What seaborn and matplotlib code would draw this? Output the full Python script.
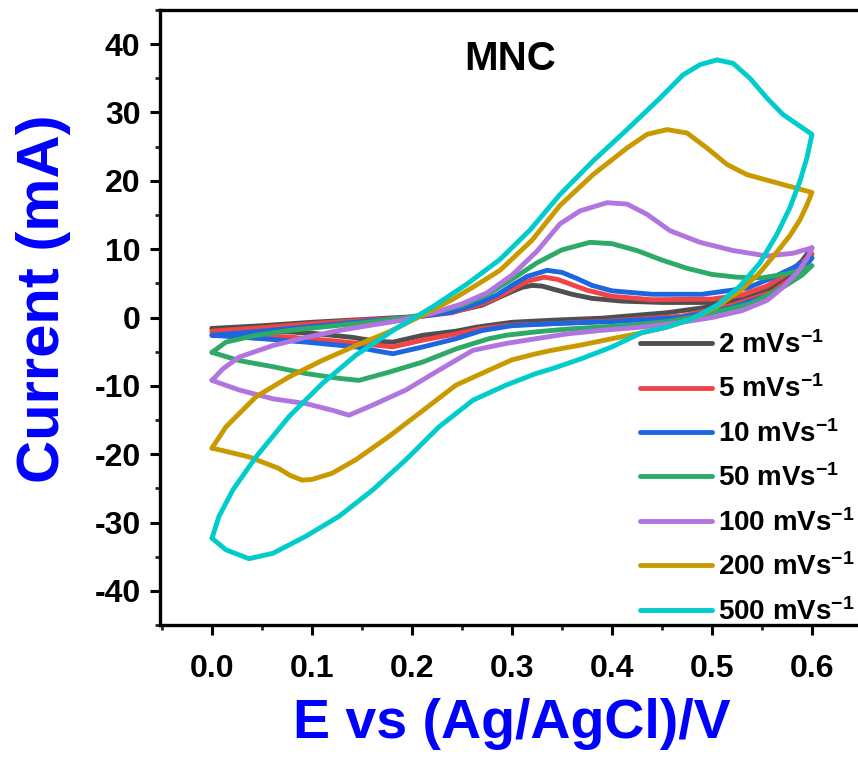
import numpy as np
import pandas as pd
import matplotlib
matplotlib.use("Agg")
import matplotlib.pyplot as plt
from matplotlib.lines import Line2D
from matplotlib.ticker import MultipleLocator
import seaborn as sns

# ---- cyclic voltammograms of MNC at several scan rates ----
# each loop: anodic sweep 0 -> 0.6 V followed by cathodic sweep 0.6 -> 0 V
rates = ["2 mVs$^{-1}$", "5 mVs$^{-1}$", "10 mVs$^{-1}$", "50 mVs$^{-1}$",
         "100 mVs$^{-1}$", "200 mVs$^{-1}$", "500 mVs$^{-1}$"]
colors = ["#4f4f4f", "#f24444", "#1c66e0", "#2eaa68", "#b274de", "#c99a00", "#00cccc"]

E_2 = [0, 0.05, 0.1, 0.15, 0.2, 0.24, 0.27, 0.285, 0.3, 0.31, 0.32, 0.33, 0.345, 0.36,
       0.38, 0.41, 0.45, 0.49, 0.52, 0.54, 0.56, 0.575, 0.59, 0.6,
       0.585, 0.56, 0.52, 0.49, 0.455, 0.39, 0.34, 0.3, 0.265, 0.244, 0.211, 0.181,
       0.165, 0.14, 0.1, 0.05, 0]
I_2 = [-1.6, -1.2, -0.7, -0.3, 0.1, 0.8, 1.8, 2.8, 3.8, 4.4, 4.7, 4.6, 4.0, 3.4,
       2.8, 2.4, 2.2, 2.2, 2.6, 3.3, 4.6, 6.2, 8.3, 10.2,
       6.8, 4.2, 2.4, 1.4, 0.7, -0.1, -0.4, -0.7, -1.4, -2.0, -2.6, -3.6,
       -3.5, -2.9, -2.3, -1.9, -1.6]

E_5 = [0, 0.05, 0.1, 0.15, 0.2, 0.24, 0.27, 0.285, 0.3, 0.315, 0.332, 0.345, 0.36, 0.375,
       0.4, 0.44, 0.5, 0.53, 0.555, 0.575, 0.59, 0.6,
       0.585, 0.56, 0.52, 0.47, 0.4, 0.34, 0.3, 0.27, 0.244, 0.211, 0.181, 0.16, 0.12,
       0.08, 0.04, 0]
I_5 = [-2.0, -1.5, -0.9, -0.4, 0.0, 0.7, 2.0, 2.9, 4.1, 5.3, 5.9, 5.6, 4.8, 4.0,
       3.1, 2.6, 2.7, 3.3, 4.6, 6.4, 8.0, 9.3,
       6.3, 3.7, 1.8, 0.2, -0.5, -0.9, -1.1, -1.6, -2.4, -3.3, -4.3, -4.0, -3.4,
       -2.9, -2.5, -2.2]

E_10 = [0, 0.05, 0.1, 0.15, 0.2, 0.24, 0.27, 0.285, 0.3, 0.315, 0.335, 0.35, 0.365, 0.38,
        0.4, 0.44, 0.49, 0.535, 0.56, 0.58, 0.6,
        0.585, 0.56, 0.52, 0.47, 0.4, 0.34, 0.3, 0.27, 0.244, 0.211, 0.19, 0.181, 0.165,
        0.144, 0.094, 0.05, 0]
I_10 = [-2.6, -2.0, -1.3, -0.6, 0.0, 0.8, 2.3, 3.3, 4.7, 6.0, 6.9, 6.6, 5.7, 4.7,
        3.9, 3.4, 3.4, 4.3, 5.8, 7.2, 8.7,
        5.9, 3.4, 1.5, 0.0, -0.6, -0.9, -1.2, -1.9, -3.1, -4.3, -5.0, -5.3, -4.9,
        -4.3, -3.6, -3.1, -2.6]

E_50 = [0, 0.014, 0.044, 0.077, 0.11, 0.15, 0.19, 0.22, 0.25, 0.275, 0.3, 0.325, 0.35,
        0.378, 0.4, 0.425, 0.45, 0.475, 0.5, 0.525, 0.55, 0.575, 0.59, 0.6,
        0.59, 0.575, 0.555, 0.538, 0.51, 0.48, 0.455, 0.42, 0.388, 0.355, 0.324, 0.294,
        0.277, 0.244, 0.211, 0.177, 0.147, 0.127, 0.094, 0.061, 0.027, 0]
I_50 = [-5.1, -3.6, -2.6, -1.9, -1.4, -0.8, -0.1, 0.6, 1.8, 3.3, 5.6, 8.0, 9.9,
        11.0, 10.8, 9.8, 8.4, 7.2, 6.3, 5.9, 5.8, 6.4, 7.0, 7.6,
        6.2, 4.8, 3.2, 2.0, 1.0, 0.0, -0.6, -1.1, -1.4, -1.7, -2.1, -2.6,
        -3.1, -4.6, -6.5, -8.0, -9.2, -8.9, -8.2, -7.2, -6.3, -5.1]

E_100 = [0, 0.011, 0.027, 0.061, 0.094, 0.127, 0.16, 0.19, 0.22, 0.25, 0.275, 0.3, 0.325,
         0.348, 0.368, 0.395, 0.415, 0.435, 0.458, 0.488, 0.521, 0.555, 0.581, 0.6,
         0.595, 0.585, 0.57, 0.555, 0.53, 0.5, 0.47, 0.43, 0.388, 0.355, 0.324, 0.294,
         0.261, 0.227, 0.194, 0.161, 0.137, 0.121, 0.094, 0.061, 0.027, 0]
I_100 = [-9.2, -7.5, -5.8, -4.1, -2.9, -1.9, -1.1, -0.4, 0.6, 2.0, 3.6, 6.2, 9.7,
         13.7, 15.6, 16.8, 16.6, 15.1, 12.7, 11.0, 9.8, 9.0, 9.4, 10.2,
         8.6, 6.5, 4.3, 2.5, 1.0, 0.0, -0.7, -1.4, -1.9, -2.4, -3.1, -3.8,
         -4.8, -7.7, -10.6, -12.8, -14.3, -13.6, -12.6, -11.9, -10.6, -9.2]

E_200 = [0, 0.014, 0.044, 0.077, 0.11, 0.144, 0.177, 0.21, 0.24, 0.265, 0.288, 0.32,
         0.348, 0.381, 0.415, 0.435, 0.455, 0.475, 0.495, 0.515, 0.535, 0.565, 0.6,
         0.595, 0.588, 0.578, 0.565, 0.548, 0.528, 0.505, 0.48, 0.455, 0.428, 0.4, 0.37,
         0.34, 0.324, 0.3, 0.277, 0.244, 0.211, 0.177, 0.144, 0.12, 0.1, 0.09, 0.078,
         0.067, 0.037, 0]
I_200 = [-19.1, -16.0, -11.6, -8.7, -6.3, -4.1, -2.1, 0.3, 2.6, 4.8, 6.9, 11.3,
         16.4, 20.9, 24.8, 26.8, 27.5, 27.0, 24.8, 22.4, 20.9, 19.7, 18.3,
         16.5, 14.3, 12.0, 9.6, 6.6, 3.9, 1.6, -0.2, -1.4, -2.3, -3.1, -4.0,
         -4.8, -5.3, -6.2, -7.7, -9.9, -13.6, -17.4, -20.8, -22.8, -23.7, -23.8, -23.1,
         -22.1, -20.4, -19.1]

E_500 = [0, 0.007, 0.021, 0.044, 0.077, 0.11, 0.144, 0.181, 0.221, 0.255, 0.288, 0.318,
         0.348, 0.381, 0.415, 0.448, 0.471, 0.488, 0.505, 0.521, 0.538, 0.555, 0.571,
         0.588, 0.6,
         0.595, 0.588, 0.578, 0.565, 0.548, 0.528, 0.505, 0.48, 0.455, 0.43, 0.4, 0.37,
         0.34, 0.324, 0.294, 0.261, 0.227, 0.194, 0.161, 0.127, 0.094, 0.061, 0.037,
         0.014, 0]
I_500 = [-32.3, -29.1, -25.2, -20.4, -14.5, -9.7, -5.5, -1.9, 1.6, 4.9, 8.5, 12.8,
         18.0, 22.9, 27.5, 32.1, 35.5, 37.0, 37.7, 37.2, 35.0, 32.1, 29.7,
         28.0, 26.8,
         23.4, 20.0, 16.1, 12.2, 8.0, 4.6, 1.8, -0.2, -1.4, -2.2, -4.3, -6.0,
         -7.5, -8.2, -9.9, -12.1, -16.0, -20.8, -25.2, -29.1, -32.0, -34.5, -35.3,
         -34.0, -32.3]

loops = [(E_2, I_2), (E_5, I_5), (E_10, I_10), (E_50, I_50),
         (E_100, I_100), (E_200, I_200), (E_500, I_500)]

frames = []
for rate, (E, I) in zip(rates, loops):
    frames.append(pd.DataFrame({"E": E, "I": I, "rate": rate}))
df = pd.concat(frames, ignore_index=True)

# ---- styling ----
sns.set_theme(style="ticks")
plt.rcParams["font.family"] = ["Liberation Sans", "DejaVu Sans"]
plt.rcParams["font.weight"] = "bold"
plt.rcParams["text.color"] = "black"
plt.rcParams["axes.unicode_minus"] = False
plt.rcParams["mathtext.fontset"] = "custom"
plt.rcParams["mathtext.rm"] = "Liberation Sans:bold"
plt.rcParams["mathtext.bf"] = "Liberation Sans:bold"
plt.rcParams["mathtext.default"] = "bf"

W, H = 858, 762
fig = plt.figure(figsize=(W / 100, H / 100), dpi=100)
ax = fig.add_axes([160 / W, 1 - 625 / H, (W - 160) / W, (625 - 10) / H])

palette = dict(zip(rates, colors))
sns.lineplot(data=df, x="E", y="I", hue="rate", hue_order=rates, palette=palette,
             sort=False, estimator=None, units="rate", linewidth=3.5, legend=False, ax=ax)
for ln in ax.lines:
    ln.set_solid_joinstyle("round")
    ln.set_solid_capstyle("round")

ax.set_xlim(-0.052, 0.646)
ax.set_ylim(-45, 45)
ax.xaxis.set_minor_locator(MultipleLocator(0.05))
ax.yaxis.set_major_locator(MultipleLocator(10))
ax.yaxis.set_minor_locator(MultipleLocator(5))
xt = np.round(np.arange(0, 0.61, 0.1), 1)
ax.set_xticks(xt)
ax.set_xticklabels([f"{v:.1f}" for v in xt])

for side in ["left", "bottom", "top"]:
    ax.spines[side].set_linewidth(2.4)
    ax.spines[side].set_color("black")
ax.spines["right"].set_visible(False)
ax.tick_params(which="major", direction="out", length=7, width=2.2, labelsize=23,
               colors="black", top=False, right=False)
ax.tick_params(axis="x", which="major", pad=14)
ax.tick_params(axis="y", which="major", pad=7)
ax.tick_params(which="minor", direction="out", length=3.5, width=2.0,
               top=False, right=False)
for lab in ax.get_xticklabels() + ax.get_yticklabels():
    lab.set_fontweight("bold")

ax.set_xlabel("E vs (Ag/AgCl)/V", fontsize=40, fontweight="bold", color="#0000ff")
ax.set_ylabel("Current (mA)", fontsize=43, fontweight="bold", color="#0000ff")
ax.xaxis.set_label_coords(0.504, -0.118)
ax.yaxis.set_label_coords(-0.128, 0.53)

ax.text(0.298, 37.8, "MNC", fontsize=29, fontweight="bold", color="black",
        ha="center", va="center")

handles = [Line2D([], [], color=c, linewidth=3.5, solid_capstyle="round") for c in colors]
ax.legend(handles, rates, loc="upper left", bbox_to_anchor=(640 / W, 1 - 331 / H),
          bbox_transform=fig.transFigure, frameon=False, fontsize=20,
          handlelength=2.6, handletextpad=0.2, labelspacing=0.6,
          borderpad=0, borderaxespad=0)

fig.savefig("out.png", dpi=100)
